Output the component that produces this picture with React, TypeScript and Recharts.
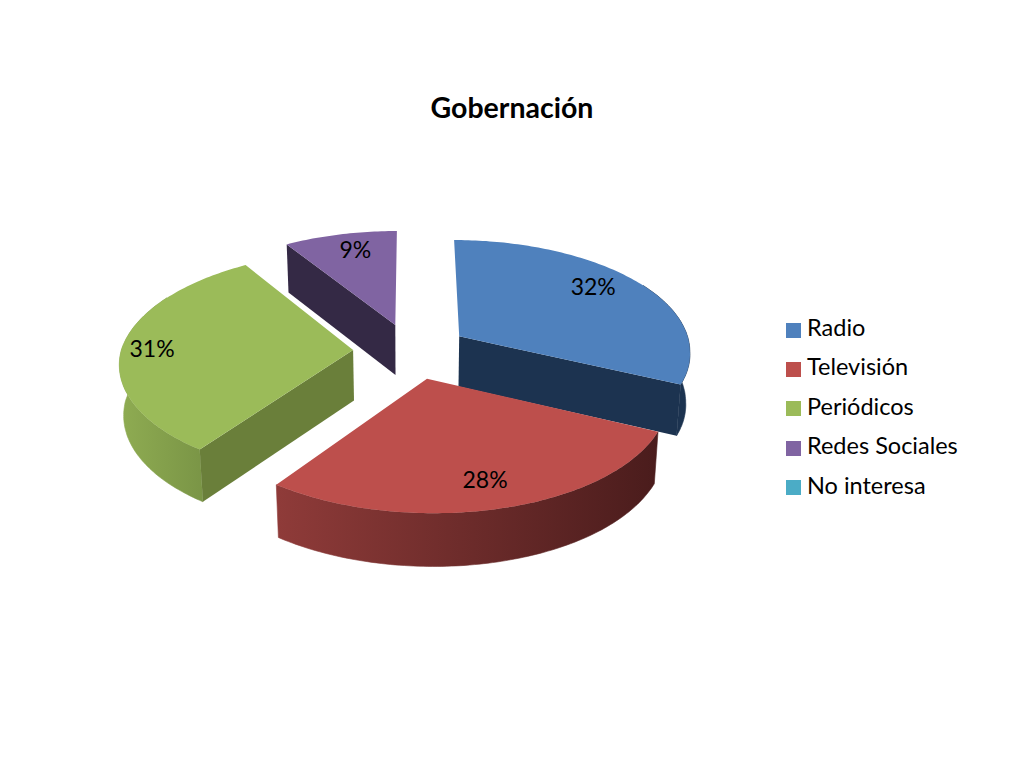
import { PieChart, Pie, Legend } from 'recharts';

const CATEGORIES = ['Radio', 'Televisión', 'Periódicos', 'Redes Sociales', 'No interesa'];
const VALUES = [32, 28, 31, 9, 0];

const TOP_COLORS = ['#4f81bd', '#bd4f4c', '#9bbb59', '#8064a2', '#4bacc6'];
const EDGE_COLORS = ['#1c3350', '#4a1c1c', '#6a7f3a', '#342945', '#2a6070'];
const RIM_LEFT = ['#1c3350', '#8f3b39', '#8fac52', '#342945', '#2a6070'];
const RIM_RIGHT = ['#1c3350', '#4a1c1c', '#7a9546', '#342945', '#2a6070'];

// how far each slice is pulled out and where its % label sits (share of radius)
const EXPLODE = 0.25;
const LABEL_AT = [0.78, 0.78, 0.88, 0.8, 0.8];
const LABEL_NUDGE = [[-7, -8], [2, 2], [2, 1], [5, -2], [0, 0]];

// fake 3D: perspective squash of the flat pie, front half leans a bit to the right
const PERSPECTIVE = 0.12;
const SQUASH = 0.479;
const SHEAR = 0.02;

const data = CATEGORIES.map((name, i) => ({ name, value: VALUES[i], fill: TOP_COLORS[i] }));

const rad = (deg: number) => (deg * Math.PI) / 180;

// plan coordinates: a = clockwise from 12 o'clock, 1 = pie radius
function project(p: any, a: number, mid: number, r: number, drop = false) {
  const X = r * Math.sin(rad(a)) + EXPLODE * Math.sin(rad(mid));
  const U = -r * Math.cos(rad(a)) - EXPLODE * Math.cos(rad(mid));
  const den = 1 - PERSPECTIVE * U;
  let x = (p.outerRadius * X) / den + p.outerRadius * SHEAR * Math.max(U, 0);
  let y = (p.outerRadius * SQUASH * U) / den;
  if (drop) {
    x = x * 0.985;
    y = y + 50.5 + 2.2 * U;
  }
  return `${(p.cx + x).toFixed(1)},${(p.cy + y).toFixed(1)}`;
}

function arc(a: number, b: number) {
  const out: number[] = [];
  for (let t = a; t < b; t += 1) out.push(t);
  out.push(b);
  return out;
}

function Slice3D(props: any) {
  const { startAngle, endAngle, midAngle, fill, index } = props;
  const a = 90 - startAngle;
  const b = 90 - endAngle;
  if (b - a < 0.01) return null;
  const mid = 90 - midAngle;

  const topRim = arc(a, b).map((t) => project(props, t, mid, 1));
  const apex = project(props, a, mid, 0);
  const apexLow = project(props, a, mid, 0, true);

  // radial walls, only those turned towards the viewer
  const walls: any[] = [];
  [
    { edge: b, normal: b + 90 },
    { edge: a, normal: a - 90 },
  ].forEach(({ edge, normal }) => {
    if (-Math.cos(rad(normal)) > 0.01) {
      const pts = [apex, project(props, edge, mid, 1), project(props, edge, mid, 1, true), apexLow];
      walls.push(<polygon key={edge} points={pts.join(' ')} fill={EDGE_COLORS[index]} />);
    }
  });

  // outer rim, front part only (the back of it hides under the top face)
  const from = Math.max(a, 60);
  const to = Math.min(b, 300);
  const gid = `rim-${index}`;
  let rim = null;
  if (to > from) {
    const top = arc(from, to).map((t) => project(props, t, mid, 1));
    const low = arc(from, to).map((t) => project(props, t, mid, 1, true)).reverse();
    rim = (
      <>
        <defs>
          <linearGradient id={gid} x1="0" y1="0" x2="1" y2="0">
            <stop offset="0%" stopColor={RIM_LEFT[index]} />
            <stop offset="100%" stopColor={RIM_RIGHT[index]} />
          </linearGradient>
        </defs>
        <polygon points={[...top, ...low].join(' ')} fill={`url(#${gid})`} stroke={`url(#${gid})`} strokeWidth={0.6} />
      </>
    );
  }

  return (
    <g>
      {rim}
      {walls}
      <polygon points={[apex, ...topRim].join(' ')} fill={fill} />
    </g>
  );
}

function renderLabel(props: any) {
  const { midAngle, percent, index } = props;
  if (!percent) return null;
  const mid = 90 - midAngle;
  const [x, y] = project(props, mid, mid, LABEL_AT[index]).split(',').map(Number);
  return (
    <text
      x={x + LABEL_NUDGE[index][0]}
      y={y + LABEL_NUDGE[index][1]}
      textAnchor="middle"
      dominantBaseline="central"
      fontSize={23}
      fontFamily="Lato"
      fill="#000"
    >
      {`${Math.round(percent * 100)}%`}
    </text>
  );
}

export default function App() {
  return (
    <div style={{ position: 'absolute', left: 0, top: 0, width: 1024, height: 768, background: '#fff', fontFamily: 'Lato' }}>
      <div style={{ position: 'absolute', left: 0, width: 1024, top: 89, textAlign: 'center', fontSize: 28.5, fontWeight: 700, lineHeight: '36px', color: '#000' }}>
        Gobernación
      </div>
      <PieChart width={1024} height={768} margin={{ top: 0, right: 0, bottom: 0, left: 0 }}>
        <Pie
          data={data}
          dataKey="value"
          nameKey="name"
          cx={411}
          cy={351}
          outerRadius={232}
          startAngle={90}
          endAngle={-270}
          stroke="none"
          labelLine={false}
          label={renderLabel}
          shape={Slice3D}
          activeShape={Slice3D}
          inactiveShape={Slice3D}
          isAnimationActive={false}
        />
        <Legend
          layout="vertical"
          iconType="square"
          iconSize={15}
          itemSorter={null}
          formatter={(value: string) => <span style={{ color: '#000', marginLeft: 2 }}>{value}</span>}
          wrapperStyle={{ position: 'absolute', left: 786, top: 308, width: 225, fontSize: 23.5, lineHeight: '39.4px', fontFamily: 'Lato' }}
        />
      </PieChart>
    </div>
  );
}
